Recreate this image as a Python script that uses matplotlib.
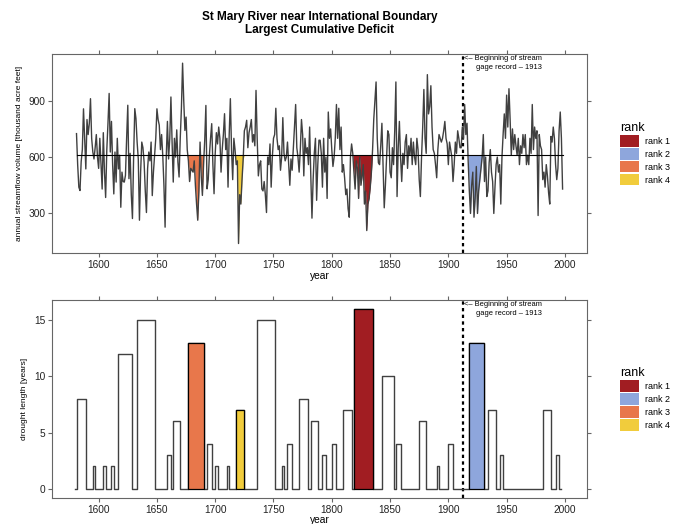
import matplotlib
matplotlib.use('Agg')
import matplotlib.pyplot as plt
import numpy as np
from matplotlib.patches import Patch

plt.rcParams['font.family'] = ['Liberation Sans', 'DejaVu Sans']

# annual streamflow volume [thousand acre feet], one value per year from 1581
first_year = 1581
flow = [
    725, 560, 440, 422, 575, 640, 857, 700, 537, 800,
    720, 780, 911, 700, 627, 590, 650, 720, 600, 540,
    700, 560, 430, 730, 520, 385, 640, 780, 939, 627,
    790, 560, 404, 627, 467, 700, 537, 610, 333, 520,
    470, 467, 503, 700, 876, 485, 620, 400, 273, 600,
    858, 805, 680, 590, 264, 520, 680, 650, 573, 420,
    305, 540, 627, 580, 680, 395, 520, 609, 700, 857,
    800, 770, 640, 720, 609, 450, 227, 600, 790, 590,
    700, 920, 680, 467, 700, 600, 745, 573, 494, 700,
    860, 1100, 900, 742, 813, 640, 580, 470, 540, 530,
    520, 580, 450, 350, 264, 420, 680, 500, 396, 560,
    690, 875, 431, 480, 610, 700, 778, 560, 405, 620,
    730, 670, 760, 700, 520, 640, 720, 831, 640, 700,
    440, 720, 911, 640, 480, 700, 640, 560, 580, 140,
    400, 350, 480, 590, 740, 760, 796, 650, 730, 760,
    800, 680, 720, 660, 955, 700, 500, 560, 580, 430,
    420, 470, 400, 305, 600, 560, 670, 440, 600, 700,
    720, 860, 700, 640, 660, 530, 600, 810, 620, 580,
    600, 680, 560, 450, 590, 530, 640, 760, 880, 650,
    600, 520, 640, 800, 720, 500, 700, 620, 650, 560,
    760, 500, 275, 480, 620, 700, 370, 560, 690, 690,
    620, 440, 700, 520, 600, 380, 840, 700, 750, 640,
    550, 600, 700, 880, 700, 860, 640, 760, 520, 560,
    490, 400, 430, 325, 280, 600, 670, 620, 520, 430,
    580, 540, 380, 600, 450, 500, 560, 350, 420, 209,
    350, 380, 440, 520, 640, 800, 900, 1000, 700, 570,
    560, 660, 780, 556, 330, 450, 600, 740, 720, 520,
    490, 650, 560, 740, 1000, 390, 650, 790, 600, 470,
    620, 560, 680, 720, 540, 660, 610, 700, 560, 680,
    600, 560, 700, 640, 480, 390, 600, 760, 960, 700,
    620, 1039, 830, 870, 980, 760, 640, 620, 560, 490,
    640, 720, 700, 680, 700, 740, 790, 700, 670, 560,
    680, 640, 600, 470, 560, 680, 620, 740, 700, 650,
    650, 760, 700, 880, 720, 780, 580, 420, 300, 450,
    520, 280, 380, 550, 300, 420, 480, 540, 600, 720,
    470, 600, 390, 420, 570, 640, 520, 470, 300, 440,
    560, 600, 520, 560, 350, 600, 722, 830, 700, 930,
    760, 964, 800, 610, 750, 640, 720, 660, 610, 700,
    560, 660, 620, 720, 650, 720, 560, 610, 560, 700,
    620, 880, 640, 760, 700, 740, 289, 720, 660, 640,
    480, 520, 440, 560, 500, 410, 350, 710, 680, 760,
    700, 560, 480, 540, 740, 840, 700, 430,
]
mean_flow = 609

# drought runs: first year and length in years
drought_start = [1581, 1595, 1604, 1611, 1617, 1633, 1659, 1664, 1677, 1693,
                 1700, 1710, 1718, 1736, 1757, 1762, 1772, 1782, 1792, 1800,
                 1810, 1819, 1843, 1855, 1875, 1890, 1900, 1918, 1934, 1944,
                 1981, 1992]
drought_len = [8, 2, 2, 2, 12, 15, 3, 6, 13, 4,
               2, 2, 7, 15, 2, 4, 8, 6, 3, 4,
               7, 16, 10, 4, 6, 2, 4, 13, 7, 3,
               7, 3]
drought_years = (1580, 1997)

# the four largest cumulative deficits
rank_start = [1819, 1918, 1677, 1718]
rank_len = [16, 13, 13, 7]
rank_labels = ['rank 1', 'rank 2', 'rank 3', 'rank 4']
rank_colors = ['#a11d22', '#8ea6dc', '#e8774b', '#f1cc3c']

gage_year = 1913
year_ticks = [1600, 1650, 1700, 1750, 1800, 1850, 1900, 1950, 2000]

years = np.arange(first_year, first_year + len(flow))
flow = np.array(flow, dtype=float)

d_years = np.arange(drought_years[0], drought_years[1] + 1)
d_len = np.zeros(len(d_years))
for s, n in zip(drought_start, drought_len):
    d_len[s - drought_years[0]:s - drought_years[0] + n] = n

fig = plt.figure(figsize=(6.73, 5.24), dpi=100)
ax1 = fig.add_axes([0.0773, 0.517, 0.795, 0.380])
ax2 = fig.add_axes([0.0773, 0.0496, 0.795, 0.378])

frame = '#666666'
for ax in (ax1, ax2):
    for sp in ax.spines.values():
        sp.set_color(frame)
        sp.set_linewidth(0.8)
    ax.set_xlim(1560, 2019)
    ax.set_xticks(year_ticks)
    ax.tick_params(direction='out', length=3, width=0.8, color=frame,
                   labelsize=7.3, labelcolor='#222222', pad=2,
                   top=True, right=True, labeltop=False, labelright=False)
    ax.axvline(gage_year, color='black', lw=1.6, ls=(0, (1.5, 1.5)))
    ax.text(gage_year + 0.5, 0.975, '<\u2013 Beginning of stream',
            transform=ax.get_xaxis_transform(), fontsize=5.4, va='center')
    ax.text(gage_year + 10.5, 0.93, 'gage record \u2013 1913',
            transform=ax.get_xaxis_transform(), fontsize=5.4, va='center')
    handles = [Patch(facecolor=c, edgecolor='none', label=l)
               for c, l in zip(rank_colors, rank_labels)]
    leg = ax.legend(handles=handles, title='rank', loc='center left',
                    bbox_to_anchor=(1.062, 0.5), frameon=False, fontsize=6.5,
                    title_fontsize=9, handlelength=2.1, handleheight=1.6,
                    labelspacing=0.15, handletextpad=0.6, borderpad=0,
                    borderaxespad=0, alignment='left')

ax1.set_xlabel('year', fontsize=7.4, labelpad=1)
ax2.set_xlabel('year', fontsize=7.4, labelpad=0)

# top panel: streamflow with shaded deficits
for s, n, c in zip(rank_start, rank_len, rank_colors):
    m = (years >= s - 1) & (years <= s + n)
    ax1.fill_between(years[m], np.minimum(flow[m], mean_flow), mean_flow,
                     color=c, lw=0)
ax1.plot(years, flow, color='#404040', lw=1.0)
ax1.plot([years[0], years[-1]], [mean_flow, mean_flow], color='black', lw=0.8)
ax1.set_ylim(89, 1149)
ax1.set_yticks([300, 600, 900])
ax1.set_ylabel('annual streamflow volume [thousand acre feet]', fontsize=6,
               labelpad=4)

# bottom panel: drought lengths
ax2.bar(rank_start, rank_len, width=rank_len, align='edge', color=rank_colors,
        edgecolor='black', lw=0.9, zorder=3)
ax2.step(d_years, d_len, where='post', color='#404040', lw=1.0, zorder=2)
ax2.set_ylim(-0.8, 16.8)
ax2.set_yticks([0, 5, 10, 15])
ax2.set_ylabel('drought length [years]', fontsize=6, labelpad=4)

fig.text(0.4747, 1 - 11 / 524,
         'St Mary River near International Boundary\nLargest Cumulative Deficit',
         ha='center', va='top', fontsize=8.5, fontweight='bold',
         linespacing=1.1)

fig.savefig('out.png', dpi=100)
